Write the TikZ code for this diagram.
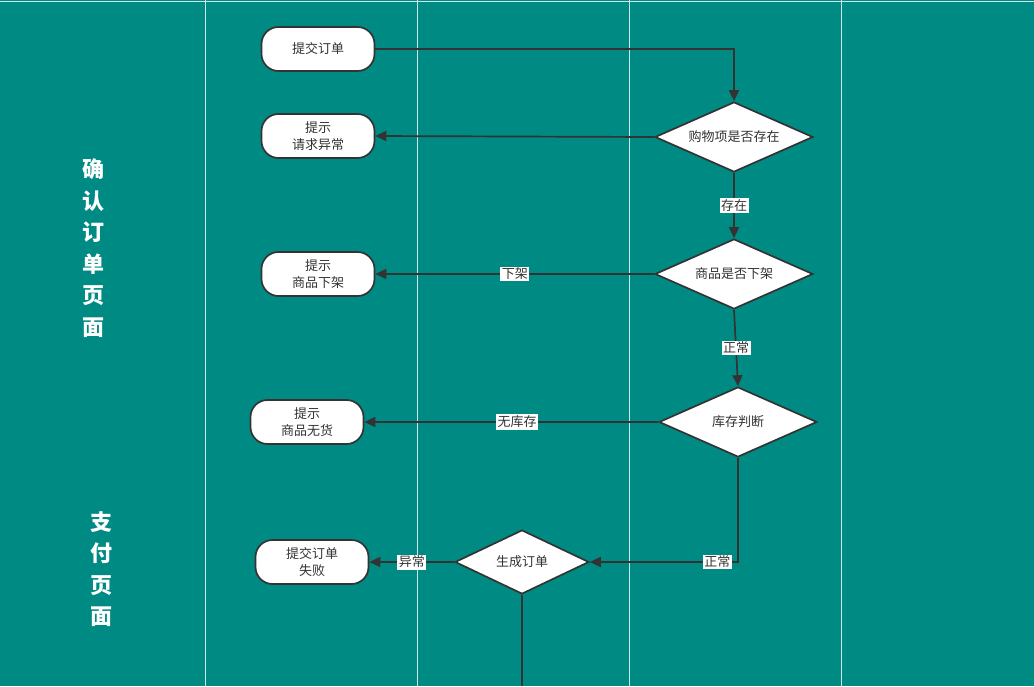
\documentclass[tikz,border=0pt]{standalone}
\usepackage{fontspec}
\setmainfont{Noto Sans CJK SC}
\usetikzlibrary{shapes.geometric,arrows.meta}
\definecolor{teal0}{HTML}{008A84}
\definecolor{ink}{HTML}{333333}
\begin{document}
\begin{tikzpicture}[x=1pt,y=-1pt,
  box/.style={draw=ink,line width=1.7pt,fill=white,rounded corners=17pt,minimum width=113pt,minimum height=44pt,align=center,text=ink,font=\fontsize{13}{17}\selectfont,inner sep=0pt},
  dia/.style={draw=ink,line width=1.7pt,fill=white,diamond,aspect=2.26,minimum width=158pt,minimum height=70pt,inner sep=0pt,text=ink,font=\fontsize{13}{17}\selectfont},
  flow/.style={draw=ink,line width=1.7pt,-{Triangle[length=11pt,width=10pt]}},
  lbl/.style={fill=white,text=ink,font=\fontsize{13}{15}\selectfont,inner sep=1.5pt},
  lane/.style={text=white,font=\fontsize{22}{31.5}\selectfont\bfseries,align=center},
  sep/.style={draw=white!80!teal0,line width=1pt}]
\path[fill=teal0] (0,0) rectangle (1034,686);
\useasboundingbox (0,0) rectangle (1034,686);
\draw[sep] (0,1.5) -- (1034,1.5);
\foreach \x in {205,417,629,841} \draw[sep] (\x,0) -- (\x,686);
\node[lane] (l1) at (93,248) {确\\认\\订\\单\\页\\面};
\node[lane] (l2) at (101,569) {支\\付\\页\\面};
\node[box] (sub) at (318,49) {提交订单};
\node[box] (err) at (318,136) {提示\\请求异常};
\node[box] (off) at (318,274) {提示\\商品下架};
\node[box] (out) at (307,422) {提示\\商品无货};
\node[box] (fail) at (312,562) {提交订单\\失败};
\node[dia] (d1) at (734,137) {购物项是否存在};
\node[dia] (d2) at (734,274) {商品是否下架};
\node[dia] (d3) at (738,422) {库存判断};
\node[dia,minimum width=134pt,minimum height=64pt,aspect=2.1] (d4) at (522,562) {生成订单};
\coordinate (end) at (522,686);
\draw[flow] (sub.east) -| (d1.north);
\draw[flow] (d1.west) -- (err.east);
\draw[flow] (d1.south) -- node[lbl,pos=0.5]{存在} (d2.north);
\draw[flow] (d2.west) -- node[lbl,pos=0.5]{下架} (off.east);
\draw[flow] (d2.south) -- node[lbl,pos=0.5]{正常} (d3.north);
\draw[flow] (d3.west) -- node[lbl,pos=0.48]{无库存} (out.east);
\draw[flow] (d3.south) |- node[lbl,pos=0.57]{正常} (d4.east);
\draw[flow] (d4.west) -- node[lbl,pos=0.5]{异常} (fail.east);
\draw[ink,line width=1.7pt] (d4.south) -- (end);
\end{tikzpicture}
\end{document}
